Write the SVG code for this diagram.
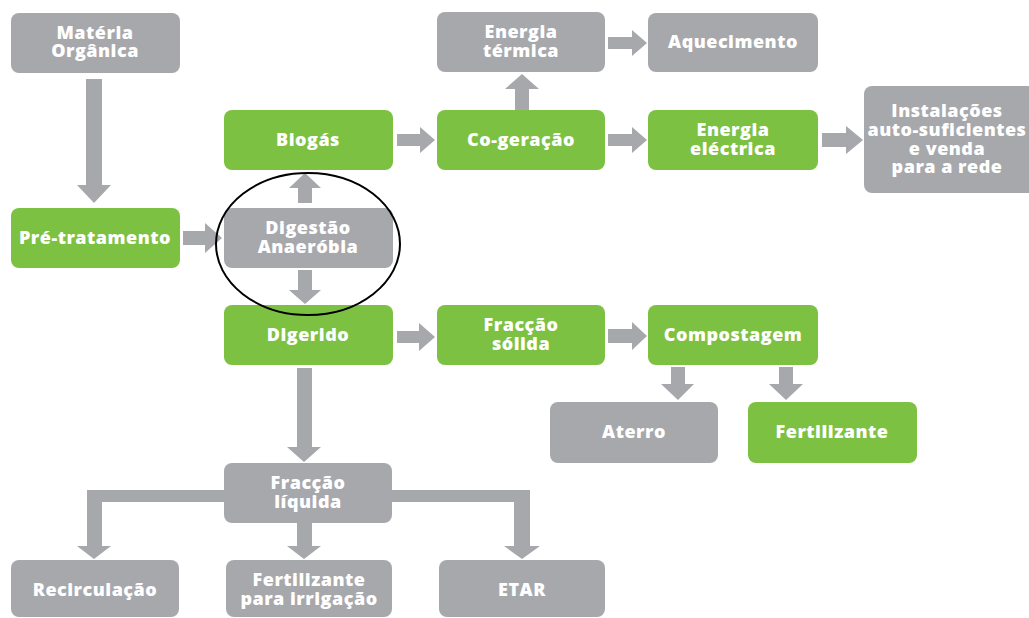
<svg xmlns="http://www.w3.org/2000/svg" width="1029" height="618" viewBox="0 0 1029 618">
<style>
.g{fill:#7DC142}
.y{fill:#A7A8AC}
.a{fill:#A7A8AC}
text{font-family:"Open Sans","Liberation Sans",sans-serif;font-weight:800;font-size:18px;fill:#fff;text-anchor:middle;letter-spacing:0.5px}
</style>
<rect width="1029" height="618" fill="#fff"/>
<g id="connectors">
<polygon class="a" points="86,79 102,79 102,185 111,185 94,203 77,185 86,185"/>
<polygon class="a" points="183,231 205,231 205,223 222,238 205,253 205,245 183,245"/>
<polygon class="a" points="298,203 298,188 289,188 305,173 321,188 312,188 312,203"/>
<polygon class="a" points="298,270 312,270 312,290 321,290 305,304 289,290 298,290"/>
<polygon class="a" points="397,134 420,134 420,127 435,140 420,153 420,146 397,146"/>
<polygon class="a" points="515,110 515,89 505,89 522,74 539,89 529,89 529,110"/>
<polygon class="a" points="608,37 632,37 632,30 647,43 632,56 632,49 608,49"/>
<polygon class="a" points="608,134 632,134 632,127 647,140 632,153 632,146 608,146"/>
<polygon class="a" points="822,133 846,133 846,126 863,140 846,154 846,147 822,147"/>
<polygon class="a" points="397,331 419,331 419,323 435,337 419,351 419,343 397,343"/>
<polygon class="a" points="608,329 632,329 632,322 647,336 632,350 632,343 608,343"/>
<polygon class="a" points="671,367 685,367 685,384 694,384 678,400 661,384 671,384"/>
<polygon class="a" points="779,367 793,367 793,384 803,384 786,400 769,384 779,384"/>
<polygon class="a" points="297,368 312,368 312,447 321,447 304,462 287,447 297,447"/>
<polygon class="a" points="224,490 87,490 87,546 77,546 94,559 111,546 102,546 102,502 224,502"/>
<polygon class="a" points="297,523 312,523 312,546 321,546 304,559 287,546 297,546"/>
<polygon class="a" points="392,490 530,490 530,546 540,546 522,559 504,546 514,546 514,502 392,502"/>
</g>
<g id="materia"><rect class="y" x="11" y="13" width="169" height="60" rx="8"/><text x="95" y="39">Matéria</text><text x="95" y="57">Orgânica</text></g>
<g id="pretratamento"><rect class="g" x="11" y="208" width="169" height="60" rx="8"/><text x="95" y="244">Pré-tratamento</text></g>
<g id="biogas"><rect class="g" x="224" y="110" width="169" height="60" rx="8"/><text x="308" y="146">Biogás</text></g>
<g id="digestao"><rect class="y" x="224" y="208" width="169" height="60" rx="8"/><text x="308" y="234">Digestão</text><text x="308" y="253">Anaeróbia</text></g>
<g id="digerido"><rect class="g" x="224" y="305" width="169" height="60" rx="8"/><text x="308" y="341">Digerido</text></g>
<g id="cogeracao"><rect class="g" x="437" y="110" width="168" height="60" rx="8"/><text x="521" y="146">Co-geração</text></g>
<g id="termica"><rect class="y" x="437" y="12" width="168" height="60" rx="8"/><text x="521" y="38">Energia</text><text x="521" y="57">térmica</text></g>
<g id="aquecimento"><rect class="y" x="648" y="13" width="170" height="59" rx="8"/><text x="733" y="48">Aquecimento</text></g>
<g id="electrica"><rect class="g" x="648" y="110" width="170" height="60" rx="8"/><text x="733" y="136">Energia</text><text x="733" y="155">eléctrica</text></g>
<g id="instalacoes"><rect class="y" x="864" y="86" width="175" height="107" rx="8"/><text x="947" y="117">Instalações</text><text x="947" y="136">auto-suficientes</text><text x="947" y="155">e venda</text><text x="947" y="173">para a rede</text></g>
<g id="solida"><rect class="g" x="437" y="305" width="168" height="60" rx="8"/><text x="521" y="331">Fracção</text><text x="521" y="350">sólida</text></g>
<g id="compostagem"><rect class="g" x="648" y="305" width="170" height="60" rx="8"/><text x="733" y="341">Compostagem</text></g>
<g id="aterro"><rect class="y" x="550" y="402" width="168" height="61" rx="8"/><text x="634" y="438">Aterro</text></g>
<g id="fertilizante"><rect class="g" x="748" y="402" width="169" height="61" rx="8"/><text x="832" y="438">Fertilizante</text></g>
<g id="liquida"><rect class="y" x="224" y="463" width="168" height="60" rx="8"/><text x="308" y="489">Fracção</text><text x="308" y="508">líquida</text></g>
<g id="recirculacao"><rect class="y" x="11" y="560" width="168" height="57" rx="8"/><text x="95" y="596">Recirculação</text></g>
<g id="irrigacao"><rect class="y" x="226" y="560" width="166" height="57" rx="8"/><text x="309" y="586">Fertilizante</text><text x="309" y="605">para irrigação</text></g>
<g id="etar"><rect class="y" x="439" y="560" width="166" height="57" rx="8"/><text x="522" y="596">ETAR</text></g>
<ellipse cx="308" cy="244" rx="92" ry="71" fill="none" stroke="#000" stroke-width="2"/>
</svg>
